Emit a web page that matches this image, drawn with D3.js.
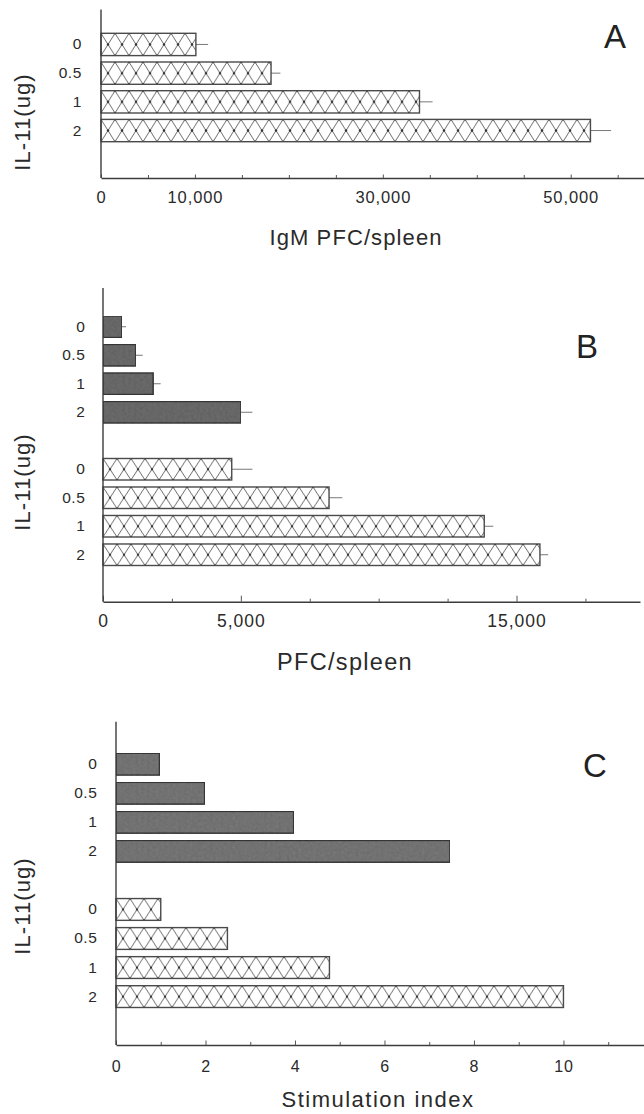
<!DOCTYPE html>
<html><head><meta charset="utf-8">
<script src="https://cdn.jsdelivr.net/npm/d3@7"></script>
<style>
html,body{margin:0;padding:0;background:#fff;}
svg{display:block;font-family:"Liberation Sans",Arial,Helvetica,sans-serif;}
</style></head><body>
<svg id="chart" width="644" height="1114"></svg>
<script>
// ---------- data ----------
const doseLabels = ["0", "0.5", "1", "2"];

// Panel A: IgM PFC/spleen (hatched only)
const igmPfc    = [10100, 18100, 33900, 52100];
const igmPfcErr = [1300, 1000, 1400, 2200];

// Panel B: PFC/spleen (solid group, hatched group)
const pfcSolid     = [680, 1190, 1820, 5000];
const pfcSolidErr  = [160, 250, 270, 420];
const pfcHatched    = [4670, 8200, 13830, 15850];
const pfcHatchedErr = [750, 480, 330, 300];

// Panel C: Stimulation index
const siSolid   = [0.97, 1.98, 3.97, 7.46];
const siHatched = [1.0, 2.49, 4.77, 10.0];

// tick values / labels
const aTickValues  = [0, 5000, 10000, 15000, 20000, 25000, 30000, 35000, 40000, 45000, 50000, 55000];
const aLabelValues = [0, 10000, 30000, 50000];
const aLabelTexts  = ["0", "10,000", "30,000", "50,000"];

const bTickValues  = [0, 2500, 5000, 7500, 10000, 12500, 15000, 17500];
const bLabelValues = [0, 5000, 15000];
const bLabelTexts  = ["0", "5,000", "15,000"];

const cTickValues  = [0, 1, 2, 3, 4, 5, 6, 7, 8, 9, 10, 11];
const cLabelValues = [0, 2, 4, 6, 8, 10];
const cLabelTexts  = ["0", "2", "4", "6", "8", "10"];

const yTitle = "IL-11(ug)";
const aTitle = "IgM PFC/spleen";
const bTitle = "PFC/spleen";
const cTitle = "Stimulation index";

// ---------- drawing ----------
const svg = d3.select("#chart");
const defs = svg.append("defs");
const INK = "#2a2a2a";

// grain filter for solid bars
const flt = defs.append("filter").attr("id", "grain").attr("x", 0).attr("y", 0).attr("width", 1).attr("height", 1);
flt.append("feTurbulence").attr("type", "fractalNoise").attr("baseFrequency", "0.35").attr("numOctaves", 2).attr("seed", 4).attr("result", "n");
flt.append("feColorMatrix").attr("in", "n").attr("type", "matrix")
  .attr("values", "0 0 0 0 0  0 0 0 0 0  0 0 0 0 0  0 0 0 0.28 0").attr("result", "na");
flt.append("feComposite").attr("in", "na").attr("in2", "SourceGraphic").attr("operator", "in").attr("result", "nb");
const mrg = flt.append("feMerge");
mrg.append("feMergeNode").attr("in", "SourceGraphic");
mrg.append("feMergeNode").attr("in", "nb");

function hatchPattern(id, h) {
  const w = 14;
  const p = defs.append("pattern").attr("id", id)
    .attr("patternUnits", "userSpaceOnUse").attr("width", w).attr("height", h);
  p.append("rect").attr("width", w).attr("height", h).attr("fill", "#fff");
  p.append("path").attr("d", `M0,0L${w},${h}M${w},0L0,${h}`)
    .attr("stroke", "#5c5c5c").attr("stroke-width", 0.9).attr("fill", "none");
  [[w / 2, h / 2], [0, 0], [w, 0], [0, h], [w, h]].forEach(([cx, cy]) =>
    p.append("circle").attr("cx", cx).attr("cy", cy).attr("r", 1.2).attr("fill", "#333"));
}

function panel(o) {
  const g = svg.append("g");
  const x = d3.scaleLinear().domain(o.xDomain).range(o.xRange);
  const y = d3.scaleBand().domain(o.keys).range(o.yRange).paddingInner(o.pad).paddingOuter(0);
  const bw = y.bandwidth();
  const pid = "hatch-" + o.name;
  hatchPattern(pid, bw);

  o.series.forEach(s => {
    const rows = s.values.map((v, i) => ({ key: s.prefix + i, v, e: s.errs ? s.errs[i] : null }));
    const bars = g.selectAll(null).data(rows).enter().append("g")
      .attr("transform", d => `translate(${x(0)},${y(d.key)})`);
    bars.filter(d => d.e != null).append("line")
      .attr("x1", d => x(d.v) - x(0)).attr("x2", d => x(d.v + d.e) - x(0))
      .attr("y1", bw / 2).attr("y2", bw / 2)
      .attr("stroke", "#777").attr("stroke-width", 1);
    const r = bars.append("rect")
      .attr("width", d => x(d.v) - x(0)).attr("height", bw)
      .attr("stroke-width", 1.4);
    if (s.hatched) {
      r.attr("fill", `url(#${pid})`).attr("stroke", "#4a4a4a");
    } else {
      r.attr("fill", o.solidFill).attr("stroke", "#3a3a3a").attr("filter", "url(#grain)");
    }
  });

  // x axis
  const xa = d3.axisBottom(x).tickValues(o.ticks).tickSize(-3).tickSizeOuter(0)
    .tickPadding(o.tickPad)
    .tickFormat(v => { const i = o.labelValues.indexOf(v); return i >= 0 ? o.labelTexts[i] : ""; });
  const xg = g.append("g").attr("transform", `translate(0,${o.xAxisY})`).call(xa);
  xg.select(".domain").attr("stroke", "#3c3c3c").attr("stroke-width", 1.4);
  xg.selectAll(".tick line").attr("stroke", "#555").attr("stroke-width", 1)
    .attr("y2", v => o.labelValues.indexOf(v) >= 0 ? -o.majorLen : -3);
  xg.selectAll(".tick text").attr("fill", INK).attr("font-size", o.tickFont)
    .attr("letter-spacing", o.tickLs).attr("font-family", "Liberation Sans, Arial, sans-serif");

  // y axis (category labels)
  const ya = d3.axisLeft(y).tickValues(o.keys.filter(k => k !== "gap")).tickSize(0)
    .tickPadding(o.yPad).tickFormat(k => doseLabels[+k.slice(1)]);
  const yg = g.append("g").attr("transform", `translate(${x(0)},0)`).call(ya);
  yg.select(".domain").remove();
  yg.selectAll(".tick text").attr("fill", INK).attr("font-size", 15.5)
    .attr("letter-spacing", 0.6).attr("font-family", "Liberation Sans, Arial, sans-serif");
  g.append("line").attr("x1", x(0)).attr("x2", x(0)).attr("y1", o.yTop).attr("y2", o.xAxisY)
    .attr("stroke", "#3c3c3c").attr("stroke-width", 1.4);

  // titles
  g.append("text").attr("x", o.titleX).attr("y", o.titleY).attr("text-anchor", "middle")
    .attr("font-size", o.titleFont).attr("letter-spacing", o.titleLs).attr("fill", INK).text(o.title);
  g.append("text").attr("transform", `translate(30,${o.yTitleY}) rotate(-90)`).attr("text-anchor", "middle")
    .attr("font-size", 22).attr("letter-spacing", 1.1).attr("fill", INK).text(yTitle);
  g.append("text").attr("x", o.letterX).attr("y", o.letterY).attr("text-anchor", "middle")
    .attr("font-size", 33).attr("fill", "#222").text(o.letter);
}

const groupKeys = ["s0", "s1", "s2", "s3", "gap", "h0", "h1", "h2", "h3"];

panel({
  name: "a", letter: "A", letterX: 615, letterY: 48,
  keys: ["h0", "h1", "h2", "h3"],
  series: [{ prefix: "h", values: igmPfc, errs: igmPfcErr, hatched: true }],
  xDomain: [0, 57800], xRange: [101, 644],
  yRange: [33.3, 141.7], pad: 0.223, yTop: 9.5, xAxisY: 178,
  ticks: aTickValues, labelValues: aLabelValues, labelTexts: aLabelTexts,
  tickPad: 13.6, tickFont: 16.5, tickLs: 0.9, majorLen: 3.5, yPad: 19,
  title: aTitle, titleX: 356, titleY: 245, titleFont: 22, titleLs: 1.1, yTitleY: 122
});

panel({
  name: "b", letter: "B", letterX: 587, letterY: 358, solidFill: "#6e6e6e",
  keys: groupKeys,
  series: [
    { prefix: "s", values: pfcSolid, errs: pfcSolidErr, hatched: false },
    { prefix: "h", values: pfcHatched, errs: pfcHatchedErr, hatched: true }
  ],
  xDomain: [0, 19480], xRange: [103, 640],
  yRange: [316, 565.5], pad: 0.245, yTop: 288, xAxisY: 601.7,
  ticks: bTickValues, labelValues: bLabelValues, labelTexts: bLabelTexts,
  tickPad: 12.9, tickFont: 17.5, tickLs: 1, majorLen: 6, yPad: 17.5,
  title: bTitle, titleX: 345, titleY: 670, titleFont: 23.5, titleLs: 1.3, yTitleY: 482
});

panel({
  name: "c", letter: "C", letterX: 595, letterY: 777, solidFill: "#7a7a7a",
  keys: groupKeys,
  series: [
    { prefix: "s", values: siSolid, errs: null, hatched: false },
    { prefix: "h", values: siHatched, errs: null, hatched: true }
  ],
  xDomain: [0, 11.8], xRange: [116, 644],
  yRange: [753.3, 1007.5], pad: 0.25, yTop: 721.7, xAxisY: 1045,
  ticks: cTickValues, labelValues: cLabelValues, labelTexts: cLabelTexts,
  tickPad: 15.3, tickFont: 16, tickLs: 0.8, majorLen: 4.5, yPad: 18.5,
  title: cTitle, titleX: 378, titleY: 1107, titleFont: 22, titleLs: 1.5, yTitleY: 906
});
</script>
</body></html>
